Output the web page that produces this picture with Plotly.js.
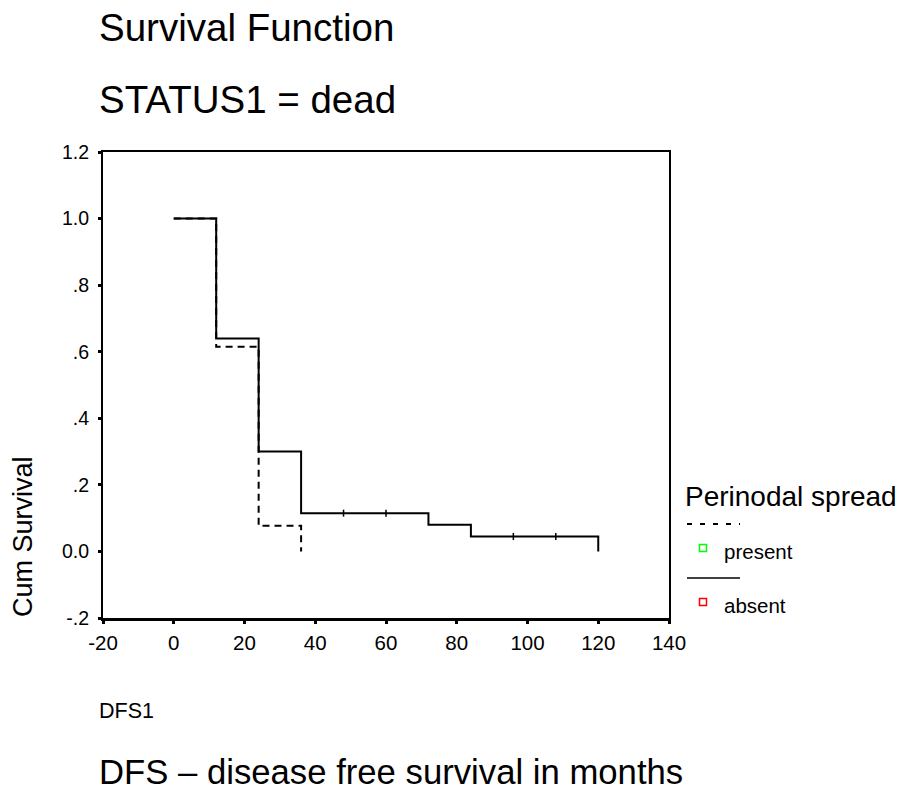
<!DOCTYPE html>
<html>
<head>
<meta charset="utf-8">
<script src="https://cdn.plot.ly/plotly-3.0.1.min.js"></script>
<style>
  html, body { margin: 0; padding: 0; background: #ffffff; }
  #chart { width: 901px; height: 793px; }
</style>
</head>
<body>
<div id="chart"></div>
<script>
// ---- Data ----
const timeAbsent = [0, 12, 24, 36, 72, 84, 120];
const survAbsent = [1.0, 0.64, 0.30, 0.115, 0.08, 0.045, 0.0];

const timePresent = [0, 12, 24, 36];
const survPresent = [1.0, 0.615, 0.077, 0.0];

const censorTimeAbsent = [48, 60, 96, 108];
const censorSurvAbsent = [0.115, 0.115, 0.045, 0.045];

const xTickVals = [-20, 0, 20, 40, 60, 80, 100, 120, 140];
const xTickText = ["-20", "0", "20", "40", "60", "80", "100", "120", "140"];
const yTickVals = [-0.2, 0, 0.2, 0.4, 0.6, 0.8, 1.0, 1.2];
const yTickText = ["-.2", "0.0", ".2", ".4", ".6", ".8", "1.0", "1.2"];

const groupNames = ["present", "absent"];
const legendTitle = "Perinodal spread";

// ---- Layout helpers (pixel -> paper) ----
const M = { l: 103, r: 232, t: 152, b: 175 };
const W = 901, H = 793;
const PW = W - M.l - M.r, PH = H - M.t - M.b;
const px = v => (v - M.l) / PW;
const py = v => (H - M.b - v) / PH;

const FONT = "Liberation Sans, Arial, Helvetica, sans-serif";

const traces = [
  {
    x: timeAbsent, y: survAbsent, name: groupNames[1],
    type: "scatter", mode: "lines", line: { shape: "hv", color: "#000", width: 2 },
    showlegend: false, hoverinfo: "x+y"
  },
  {
    x: censorTimeAbsent, y: censorSurvAbsent, name: groupNames[1] + " censored",
    type: "scatter", mode: "markers",
    marker: { symbol: "line-ns-open", size: 5, color: "#000", line: { color: "#000", width: 1.5 } },
    showlegend: false, hoverinfo: "x+y"
  },
  {
    x: timePresent, y: survPresent, name: groupNames[0],
    type: "scatter", mode: "lines", line: { shape: "hv", color: "#000", width: 2, dash: "7px,5px" },
    showlegend: false, hoverinfo: "x+y"
  }
];

const annotations = [
  { text: "Survival Function", x: px(97), y: py(28), xanchor: "left", yanchor: "middle", font: { size: 38.5 } },
  { text: "STATUS1 = dead", x: px(97), y: py(100), xanchor: "left", yanchor: "middle", font: { size: 38.5 } },
  { text: "Cum Survival", x: px(23), y: py(537), xanchor: "center", yanchor: "middle", textangle: -90, font: { size: 27 } },
  { text: "DFS1", x: px(97), y: py(711), xanchor: "left", yanchor: "middle", font: { size: 21.5 } },
  { text: "DFS \u2013 disease free survival in months", x: px(97), y: py(772), xanchor: "left", yanchor: "middle", font: { size: 34.7 } },
  { text: legendTitle, x: px(683), y: py(496), xanchor: "left", yanchor: "middle", font: { size: 28 } },
  { text: groupNames[0], x: px(722), y: py(551), xanchor: "left", yanchor: "middle", font: { size: 20.5 } },
  { text: groupNames[1], x: px(722), y: py(605), xanchor: "left", yanchor: "middle", font: { size: 20.5 } }
].map(a => Object.assign({ xref: "paper", yref: "paper", showarrow: false }, a,
  { font: Object.assign({ family: FONT, color: "#000" }, a.font) }));

const sq = 3.5;
const shapes = [
  { type: "line", x0: px(687), x1: px(740), y0: py(524), y1: py(524), line: { color: "#000", width: 2, dash: "5px,8px" } },
  { type: "rect", x0: px(703 - sq), x1: px(703 + sq), y0: py(548 - sq), y1: py(548 + sq), line: { color: "#00ff00", width: 1.5 } },
  { type: "line", x0: px(687), x1: px(740), y0: py(578), y1: py(578), line: { color: "#000", width: 1.5 } },
  { type: "rect", x0: px(703 - sq), x1: px(703 + sq), y0: py(602 - sq), y1: py(602 + sq), line: { color: "#ff0000", width: 1.5 } }
].map(s => Object.assign({ xref: "paper", yref: "paper" }, s));

const layout = {
  width: W, height: H,
  margin: M,
  paper_bgcolor: "#ffffff", plot_bgcolor: "#ffffff",
  font: { family: FONT, color: "#000" },
  showlegend: false,
  xaxis: {
    range: [-20, 140], tickmode: "array", tickvals: xTickVals, ticktext: xTickText,
    showgrid: false, zeroline: false, showline: true, linecolor: "#000", linewidth: 2.5, mirror: true,
    ticks: "outside", ticklen: 3, tickwidth: 3, tickcolor: "#000",
    tickfont: { size: 20.5, family: FONT, color: "#000" }, ticklabelstandoff: 2, fixedrange: true
  },
  yaxis: {
    range: [-0.2, 1.2], tickmode: "array", tickvals: yTickVals, ticktext: yTickText,
    showgrid: false, zeroline: false, showline: true, linecolor: "#000", linewidth: 2, mirror: true,
    ticks: "outside", ticklen: 3, tickwidth: 3, tickcolor: "#000",
    tickfont: { size: 19.5, family: FONT, color: "#000" }, ticklabelstandoff: 5, fixedrange: true
  },
  annotations: annotations,
  shapes: shapes
};

Plotly.newPlot("chart", traces, layout, { displayModeBar: false, staticPlot: true });
</script>
</body>
</html>
